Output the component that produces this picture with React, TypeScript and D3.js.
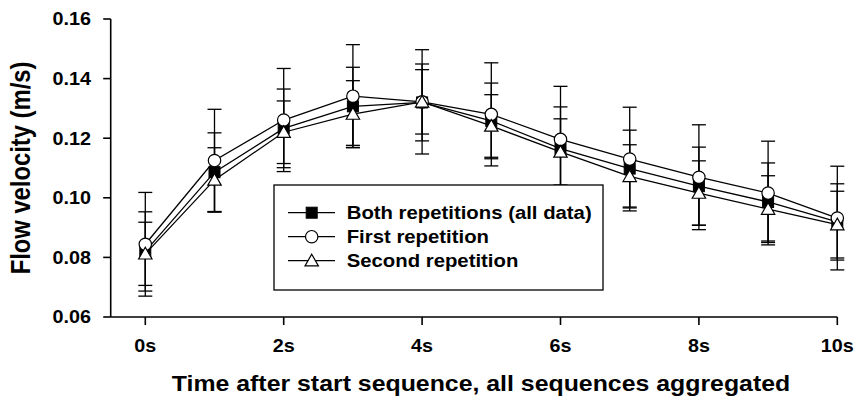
import React from "react";
import * as d3 from "d3";

// Seconds after the start of the sequence
const times = [0, 1, 2, 3, 4, 5, 6, 7, 8, 9, 10];
const xTickValues = [0, 2, 4, 6, 8, 10];
const xTickLabels = ["0s", "2s", "4s", "6s", "8s", "10s"];
const yTickValues = [0.06, 0.08, 0.1, 0.12, 0.14, 0.16];

// Mean flow velocity (m/s) and standard deviation per second
const bothMean = [0.082, 0.1086, 0.1233, 0.1307, 0.132, 0.1258, 0.1165, 0.1098, 0.1039, 0.0986, 0.0919];
const bothSd = [0.0133, 0.0132, 0.0132, 0.0131, 0.0129, 0.0127, 0.014, 0.0129, 0.0131, 0.0131, 0.0128];
const firstMean = [0.0844, 0.1125, 0.1261, 0.1341, 0.1322, 0.128, 0.1196, 0.113, 0.1069, 0.1016, 0.0932];
const firstSd = [0.0174, 0.0172, 0.0173, 0.0173, 0.0175, 0.0173, 0.0178, 0.0174, 0.0176, 0.0174, 0.0174];
const secondMean = [0.0812, 0.106, 0.122, 0.1281, 0.1322, 0.1241, 0.1154, 0.1072, 0.1016, 0.0962, 0.091];
const secondSd = [0.0106, 0.0108, 0.0105, 0.0112, 0.0108, 0.0105, 0.0111, 0.0106, 0.0108, 0.0112, 0.0112];

const seriesNames = ["Both repetitions (all data)", "First repetition", "Second repetition"];

const W = 856;
const H = 405;
const FONT = "'Liberation Sans', Arial, Helvetica, sans-serif";
const SX = 1.13; // horizontal text stretch

const x = d3.scaleLinear().domain([-0.5, 10]).range([110.7, 837.3]);
const y = d3.scaleLinear().domain([0.06, 0.16]).range([317, 19]);

type Shape = "square" | "circle" | "triangle";

function Marker({ cx, cy, shape }: { cx: number; cy: number; shape: Shape }) {
  if (shape === "square") {
    return <rect x={cx - 5.5} y={cy - 5.5} width={11} height={11} fill="#000" stroke="#000" strokeWidth={1} />;
  }
  if (shape === "circle") {
    return <circle cx={cx} cy={cy} r={6.2} fill="#fff" stroke="#000" strokeWidth={1.2} />;
  }
  const p = d3.path();
  p.moveTo(cx, cy - 6.5);
  p.lineTo(cx + 6.7, cy + 5.2);
  p.lineTo(cx - 6.7, cy + 5.2);
  p.closePath();
  return <path d={p.toString()} fill="#fff" stroke="#000" strokeWidth={1.2} />;
}

const series: { name: string; mean: number[]; sd: number[]; shape: Shape }[] = [
  { name: seriesNames[0], mean: bothMean, sd: bothSd, shape: "square" },
  { name: seriesNames[1], mean: firstMean, sd: firstSd, shape: "circle" },
  { name: seriesNames[2], mean: secondMean, sd: secondSd, shape: "triangle" },
];

function StretchText({ tx, ty, children, size, anchor = "start", dy = "0" }: any) {
  return (
    <text
      transform={`translate(${tx},${ty}) scale(${SX},1)`}
      fontFamily={FONT}
      fontWeight="bold"
      fontSize={size}
      textAnchor={anchor}
      dy={dy}
      fill="#000"
    >
      {children}
    </text>
  );
}

export default function App() {
  const line = d3
    .line<number>()
    .x((_, i) => x(times[i]))
    .y((d) => y(d));

  const capHalf = 7;
  const legendX = 274;
  const legendY = 185;
  const legendRowY = [212.7, 236.7, 260.7];

  return (
    <svg width={W} height={H} style={{ position: "absolute", left: 0, top: 0, background: "#fff" }}>
      <rect width={W} height={H} fill="#fff" />

      {/* error bars */}
      {series.map((s) => (
        <g key={"err-" + s.name} stroke="#000" strokeWidth={1.3} fill="none">
          {s.mean.map((m, i) => {
            const cx = x(times[i]);
            const hi = y(m + s.sd[i]);
            const lo = y(m - s.sd[i]);
            return (
              <g key={i}>
                <line x1={cx} x2={cx} y1={hi} y2={lo} />
                <line x1={cx - capHalf} x2={cx + capHalf} y1={hi} y2={hi} />
                <line x1={cx - capHalf} x2={cx + capHalf} y1={lo} y2={lo} />
              </g>
            );
          })}
        </g>
      ))}

      {/* connecting lines */}
      {series.map((s) => (
        <path key={"line-" + s.name} d={line(s.mean) || ""} fill="none" stroke="#000" strokeWidth={1.3} />
      ))}

      {/* markers */}
      {series.map((s) => (
        <g key={"mk-" + s.name}>
          {s.mean.map((m, i) => (
            <Marker key={i} cx={x(times[i])} cy={y(m)} shape={s.shape} />
          ))}
        </g>
      ))}

      {/* axes */}
      <g stroke="#000" strokeWidth={1.6}>
        <line x1={x(-0.5)} x2={x(-0.5)} y1={y(0.06)} y2={y(0.16)} />
        <line x1={x(-0.5)} x2={x(10)} y1={y(0.06)} y2={y(0.06)} />
        {yTickValues.map((v) => (
          <line key={v} x1={x(-0.5) - 7.5} x2={x(-0.5)} y1={y(v)} y2={y(v)} />
        ))}
        {xTickValues.map((v) => (
          <line key={v} x1={x(v)} x2={x(v)} y1={y(0.06)} y2={y(0.06) + 8} />
        ))}
      </g>

      {yTickValues.map((v) => (
        <StretchText key={v} tx={91} ty={y(v)} size={17.5} anchor="end" dy="0.36em">
          {d3.format(".2f")(v)}
        </StretchText>
      ))}
      {xTickValues.map((v, i) => (
        <StretchText key={v} tx={x(v)} ty={352} size={17.5} anchor="middle">
          {xTickLabels[i]}
        </StretchText>
      ))}

      <StretchText tx={481} ty={391} size={22} anchor="middle">
        Time after start sequence, all sequences aggregated
      </StretchText>
      <text
        transform={`translate(30,168) rotate(-90) scale(1,${SX})`}
        fontFamily={FONT}
        fontWeight="bold"
        fontSize={23.8}
        textAnchor="middle"
        fill="#000"
      >
        Flow velocity (m/s)
      </text>

      {/* legend */}
      <rect x={legendX} y={legendY} width={329} height={105} fill="#fff" stroke="#000" strokeWidth={1.3} />
      {series.map((s, i) => (
        <g key={"lg-" + s.name}>
          <line x1={288} x2={335} y1={legendRowY[i]} y2={legendRowY[i]} stroke="#000" strokeWidth={1.3} />
          <Marker cx={311.7} cy={legendRowY[i]} shape={s.shape} />
          <StretchText tx={346.7} ty={legendRowY[i]} size={18} dy="0.36em">
            {s.name}
          </StretchText>
        </g>
      ))}
    </svg>
  );
}
